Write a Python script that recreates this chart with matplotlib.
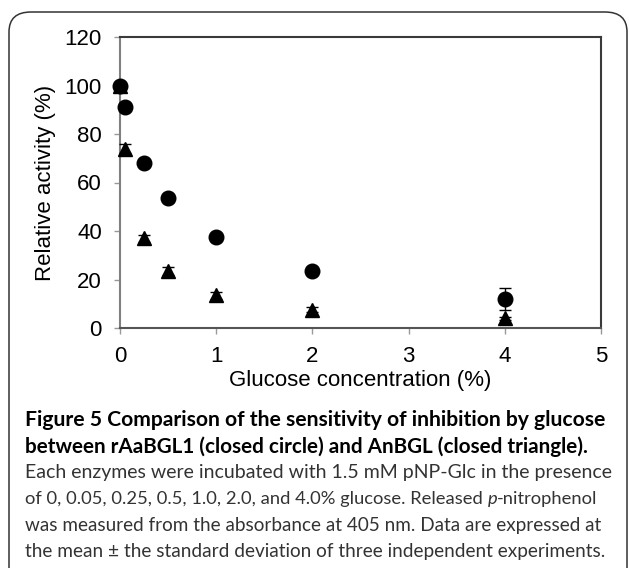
import matplotlib
matplotlib.use("Agg")
import matplotlib.pyplot as plt
from matplotlib.patches import FancyBboxPatch

# glucose concentration (%) and relative activity (%)
glucose = [0, 0.05, 0.25, 0.5, 1.0, 2.0, 4.0]
raabgl1 = [100, 91, 68, 53.5, 37.5, 23.5, 12]
raabgl1_sd = [0.5, 1, 1, 1, 1, 1, 4.5]
anbgl = [100, 74, 37, 23.5, 13.5, 7.5, 4]
anbgl_sd = [0.5, 2, 1.5, 1.5, 1.5, 1, 0.5]

xticks = [0, 1, 2, 3, 4, 5]
yticks = [0, 20, 40, 60, 80, 100, 120]

# each caption line is a list of (text, weight, style) pieces
caption = [
    [("Figure 5 Comparison of the sensitivity of inhibition by glucose", "bold", "normal")],
    [("between rAaBGL1 (closed circle) and AnBGL (closed triangle).", "bold", "normal")],
    [("Each enzymes were incubated with 1.5 mM pNP-Glc in the presence", "normal", "normal")],
    [("of 0, 0.05, 0.25, 0.5, 1.0, 2.0, and 4.0% glucose. Released ", "normal", "normal"),
     ("p", "normal", "italic"),
     ("-nitrophenol", "normal", "normal")],
    [("was measured from the absorbance at 405 nm. Data are expressed at", "normal", "normal")],
    [("the mean \u00b1 the standard deviation of three independent experiments.", "normal", "normal")],
]
# right end of each caption line (px)
caption_right = [607, 593, 613, 598, 601, 607]

plt.rcParams['font.family'] = ['Liberation Sans', 'DejaVu Sans']

W, H = 629, 568
fig = plt.figure(figsize=(W / 100, H / 100), dpi=100)

# rounded frame around the figure
frame = FancyBboxPatch((9 / W, 1 - 700 / H), 618 / W, 688 / H,
                       boxstyle="round,pad=0,rounding_size=0.035",
                       transform=fig.transFigure, fill=False,
                       edgecolor='#333333', linewidth=1.1, clip_on=False)
fig.patches.append(frame)

ax = fig.add_axes([120 / W, 1 - 328 / H, 481 / W, 291 / H])

ax.errorbar(glucose, anbgl, yerr=anbgl_sd, fmt='^', color='black',
            markersize=10.5, capsize=4, elinewidth=1, zorder=3)
ax.errorbar(glucose, raabgl1, yerr=raabgl1_sd, fmt='o', color='black',
            markersize=10.5, capsize=4, elinewidth=1, zorder=4)

ax.set_xlim(0, 5)
ax.set_ylim(0, 120)
ax.set_xticks(xticks)
ax.set_yticks(yticks)
for s in ['top', 'right']:
    ax.spines[s].set_color('#3a3a3a')
    ax.spines[s].set_linewidth(1.5)
ax.spines['left'].set_color('#808080')
ax.spines['bottom'].set_color('#555555')
ax.spines['left'].set_linewidth(1.5)
ax.spines['bottom'].set_linewidth(1.5)
for c in ax.collections + ax.lines:
    c.set_clip_on(False)
ax.tick_params(axis='both', direction='out', length=4, width=1,
               color='#999999', labelsize=16)
ax.tick_params(axis='y', pad=9)
ax.tick_params(axis='x', pad=9)
ax.set_xlabel("Glucose concentration (%)", fontsize=16, labelpad=2)
ax.set_ylabel("Relative activity (%)", fontsize=16, labelpad=6)

renderer = fig.canvas.get_renderer()


def draw_line(pieces, y, size):
    x = 25
    texts = []
    for text, weight, style in pieces:
        bold = weight == 'bold'
        t = fig.text(x / W, 1 - y / H, text, fontsize=size,
                     family=['Lato', 'DejaVu Sans'], weight=weight, style=style,
                     color='black' if bold else '#333333',
                     va='center', ha='left')
        x = t.get_window_extent(renderer).x1
        texts.append(t)
    return texts, x


y0 = 420
for i, pieces in enumerate(caption):
    y = y0 + i * 26.4
    texts, right = draw_line(pieces, y, 14)
    size = 14 * (caption_right[i] - 25) / (right - 25)
    for t in texts:
        t.remove()
    draw_line(pieces, y, size)

fig.savefig("out.png", dpi=100)
